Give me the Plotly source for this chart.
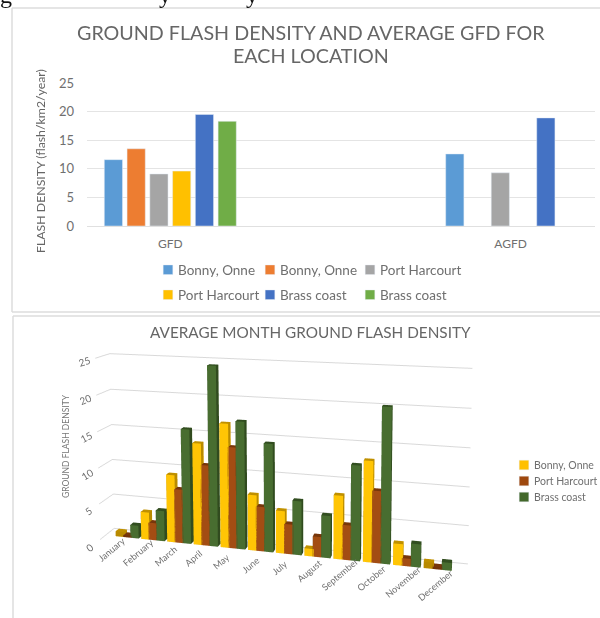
import plotly.graph_objects as go

W, H = 600, 618
FONT = "Lato"
GRAY = "#6f6f6f"

# ---- top chart data
series_top = ["Bonny, Onne", "Bonny, Onne", "Port Harcourt", "Port Harcourt", "Brass coast", "Brass coast"]
colors_top = ["#5b9bd5", "#ed7d31", "#a5a5a5", "#ffc000", "#4472c4", "#70ad47"]
gfd_values = [11.6, 13.5, 9.1, 9.6, 19.5, 18.3]
agfd_values = [12.6, None, 9.3, None, 18.9, None]
gfd_slots = [0, 1, 2, 3, 4, 5]
agfd_slots = [15, None, 17, None, 19, None]
top_ticks = [2.5, 17.45]
top_ticklabels = ["GFD", "AGFD"]

# ---- bottom chart data
months = ["January", "February", "March", "April", "May", "June", "July", "August",
          "September", "October", "November", "December"]
bonny = [0.7, 3.8, 9.3, 13.9, 16.8, 7.5, 5.7, 1.0, 8.4, 13.2, 2.8, 0.8]
port = [0.3, 2.4, 7.4, 11.0, 13.7, 6.0, 4.0, 2.7, 4.6, 9.4, 1.0, 0.3]
brass = [1.8, 4.2, 15.7, 24.4, 17.2, 14.5, 7.2, 5.6, 12.5, 20.2, 3.0, 1.0]
series_bottom = ["Bonny, Onne", "Port Harcourt", "Brass coast"]
colors_bottom = ["#ffc000", "#9e480e", "#43682b"]


def px(x):
    return x / W


def py(y):
    return 1 - y / H


legend_pos = [(153, 270), (255, 270), (355, 270), (153, 295), (255, 295), (355, 295)]
legend_ids = ["legend", "legend3", "legend4", "legend5", "legend6", "legend7"]
legend_pos_b = [(509, 465), (509, 481), (509, 497)]
legend_ids_b = ["legend2", "legend8", "legend9"]

fig = go.Figure()
for i, name in enumerate(series_top):
    xs = [gfd_slots[i]]
    ys = [gfd_values[i]]
    if agfd_slots[i] is not None:
        xs.append(agfd_slots[i])
        ys.append(agfd_values[i])
    fig.add_trace(go.Bar(x=xs, y=ys, width=0.8, name=name, marker=dict(color=colors_top[i]),
                         xaxis="x", yaxis="y", legend=legend_ids[i]))


def box_mesh(x0, x1, y0, y1, h, color):
    xv = [x0, x1, x1, x0, x0, x1, x1, x0]
    yv = [y0, y0, y1, y1, y0, y0, y1, y1]
    zv = [0, 0, 0, 0, h, h, h, h]
    ii = [0, 0, 4, 4, 0, 0, 1, 1, 2, 2, 3, 3]
    jj = [1, 2, 5, 6, 1, 5, 2, 6, 3, 7, 0, 4]
    kk = [2, 3, 6, 7, 5, 4, 6, 5, 7, 6, 4, 7]
    return go.Mesh3d(x=xv, y=yv, z=zv, i=ii, j=jj, k=kk, color=color, flatshading=True,
                     lighting=dict(ambient=0.72, diffuse=0.55, specular=0.05, fresnel=0),
                     lightposition=dict(x=-2000, y=-3000, z=6000),
                     hoverinfo="skip", showlegend=False, scene="scene")


for s, vals in enumerate([bonny, port, brass]):
    for m, v in enumerate(vals):
        xc = m + (s - 1) * 0.29
        fig.add_trace(box_mesh(xc - 0.16, xc + 0.16, -0.12, 0.12, v, colors_bottom[s]))

for s, name in enumerate(series_bottom):
    fig.add_trace(go.Bar(x=[None], y=[None], name=name, marker=dict(color=colors_bottom[s]),
                         xaxis="x", yaxis="y", legend=legend_ids_b[s]))

frame = "#dcdcdc"
shapes = [
    dict(type="line", xref="paper", yref="paper", x0=px(12), x1=px(12), y0=py(8), y1=py(312), line=dict(color=frame, width=1.5)),
    dict(type="line", xref="paper", yref="paper", x0=px(12), x1=px(600), y0=py(8), y1=py(8), line=dict(color=frame, width=1.5)),
    dict(type="line", xref="paper", yref="paper", x0=px(12), x1=px(600), y0=py(312), y1=py(312), line=dict(color=frame, width=1.5)),
    dict(type="line", xref="paper", yref="paper", x0=px(13), x1=px(13), y0=py(316), y1=py(618), line=dict(color=frame, width=1.5)),
    dict(type="line", xref="paper", yref="paper", x0=px(13), x1=px(600), y0=py(316), y1=py(316), line=dict(color=frame, width=1.5)),
]


def note(text, x, y, size, color="#666666", angle=0, family=FONT):
    return dict(text=text, x=px(x), y=py(y), xref="paper", yref="paper", xanchor="center", yanchor="middle",
                showarrow=False, textangle=angle, font=dict(family=family, size=size, color=color))


annotations = [
    note("GROUND FLASH DENSITY AND AVERAGE GFD FOR", 311, 32, 19.7),
    note("EACH LOCATION", 311, 55, 19.7),
    note("FLASH DENSITY (flash/km2/year)", 41, 161, 12.3, angle=-90),
    note("AVERAGE MONTH GROUND FLASH DENSITY", 310, 332, 15.3),
    note("GROUND FLASH DENSITY", 66, 446, 8.5, color="#777777", angle=-90),
]
for txt, xp in [("g", 6), ("y", 165), ("y", 252)]:
    annotations.append(note(txt, xp, -5, 24, color="#111111", family="Liberation Serif"))

layout_legends = {}
for lid, (lx, ly) in zip(legend_ids, legend_pos):
    layout_legends[lid] = dict(x=px(lx), y=py(ly), xanchor="left", yanchor="middle", bgcolor="rgba(0,0,0,0)",
                               font=dict(size=13.5, color=GRAY), itemwidth=30, indentation=-15)
for lid, (lx, ly) in zip(legend_ids_b, legend_pos_b):
    layout_legends[lid] = dict(x=px(lx), y=py(ly), xanchor="left", yanchor="middle", bgcolor="rgba(0,0,0,0)",
                               font=dict(size=10.5, color=GRAY), itemwidth=30, indentation=-15)

fig.update_layout(
    width=W, height=H, autosize=False, margin=dict(l=0, r=0, t=0, b=0, autoexpand=False),
    paper_bgcolor="white", plot_bgcolor="white", barmode="overlay", showlegend=True,
    font=dict(family=FONT, color=GRAY),
    xaxis=dict(domain=[px(87), px(595)], anchor="y", range=[-1.16, 21.16], tickmode="array",
               tickvals=top_ticks, ticktext=top_ticklabels, showgrid=False, zeroline=False,
               showline=True, linecolor="#e0e0e0", ticks="", ticklabelstandoff=7, tickfont=dict(size=12, color=GRAY)),
    yaxis=dict(domain=[py(226), py(83)], anchor="x", range=[0, 25], dtick=5, gridcolor="#e4e4e4",
               zeroline=False, ticks="", ticklabelstandoff=12, tickfont=dict(size=13, color=GRAY)),
    scene=dict(
        domain=dict(x=[0, 1], y=[0, 1]),
        bgcolor="rgba(0,0,0,0)",
        aspectmode="manual", aspectratio=dict(x=1.955, y=0.16, z=1.0),
        camera=dict(eye=dict(x=1.006, y=-3.64, z=1.15), center=dict(x=0.10, y=0.102, z=0.771),
                    projection=dict(type="perspective")),
        xaxis=dict(title="", tickmode="array", tickvals=list(range(12)), ticktext=months, tickangle=-40,
                   range=[-0.85, 11.95], showgrid=False, showbackground=False, zeroline=False,
                   showline=False, ticks="", tickfont=dict(size=10.5, color=GRAY)),
        yaxis=dict(title="", showticklabels=False, showgrid=False, showbackground=False, zeroline=False,
                   showline=False, ticks="", range=[-0.5, 0.5]),
        zaxis=dict(title="", tickmode="array", tickvals=[0, 5, 10, 15, 20, 25], range=[0, 25],
                   gridcolor="#d9d9d9", showbackground=False, zeroline=False, showline=False, ticks="",
                   tickfont=dict(size=11, color=GRAY)),
    ),
    shapes=shapes, annotations=annotations,
    **layout_legends,
)
post = """
document.body.style.margin='0';
document.documentElement.style.overflow='hidden';
document.querySelectorAll('.legendsymbols').forEach(function(g){g.setAttribute('transform','translate(10,0)');});
document.querySelectorAll('.legendpoints path').forEach(function(p){
  var t = p.getAttribute('transform') || '';
  p.setAttribute('transform', t + ' scale(0.8)');
});
"""
fig.write_html("out.html", config=dict(displayModeBar=False), post_script=post)
